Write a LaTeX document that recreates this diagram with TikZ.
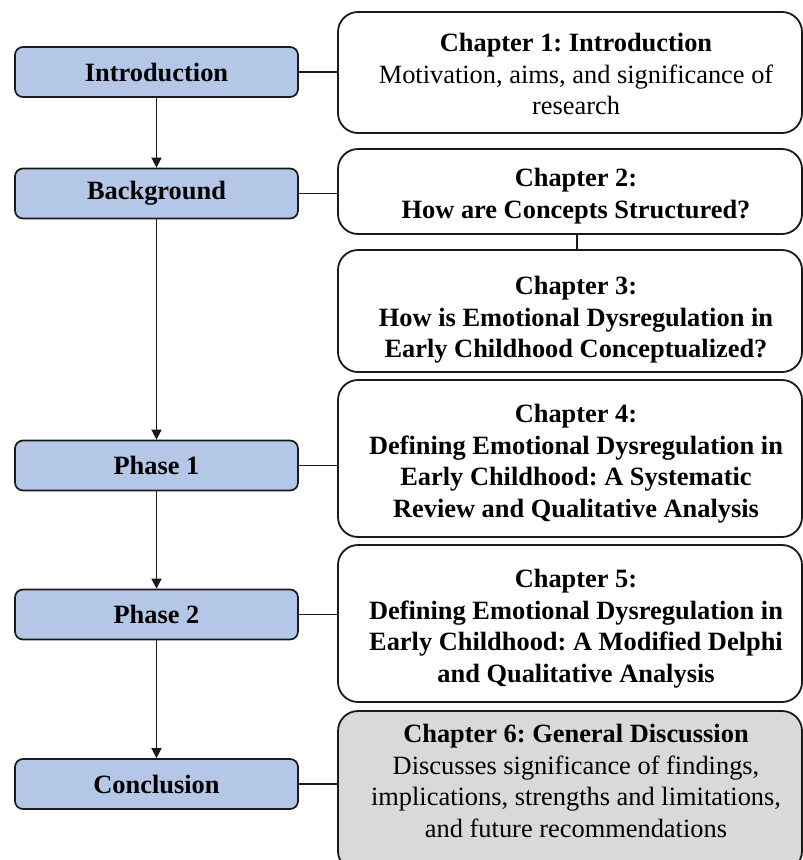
\documentclass[tikz,border=0pt]{standalone}
\usepackage{fontspec}
\setmainfont{Liberation Serif}
\usetikzlibrary{arrows.meta}
\definecolor{lblue}{RGB}{180,199,231}
\definecolor{lgray}{RGB}{217,217,217}
\definecolor{edge}{RGB}{25,25,25}
\frenchspacing
\begin{document}
\frenchspacing
\begin{tikzpicture}[x=1pt,y=-1pt,
  font={\fontsize{26.4}{31.5}\selectfont},
  lbox/.style={draw=edge, line width=1.7pt, fill=lblue, rounded corners=8pt,
    minimum width=283pt, minimum height=50pt, inner sep=0pt, font={\fontsize{26.4}{31.5}\selectfont\bfseries}},
  rbox/.style={draw=edge, line width=1.8pt, rounded corners=20pt, inner sep=0pt,
    minimum width=464pt},
  txt/.style={align=center, inner sep=0pt, anchor=north},
  conn/.style={draw=edge, line width=1.5pt},
  arr/.style={draw=edge, line width=1.5pt, -{Triangle[length=10pt,width=10pt]}}
]
\clip (0,0) rectangle (803,860);
\fill[white] (0,0) rectangle (803,860);

% left column
\node[lbox] (intro) at (156.5,72) {Introduction};
\node[lbox] (bg) at (156.5,193.5) {Background};
\node[lbox] (p1) at (156.5,465.5) {Phase 1};
\node[lbox] (p2) at (156.5,614.5) {Phase 2};
\node[lbox] (concl) at (156.5,784) {Conclusion};

% right column boxes
\node[rbox, fill=white, minimum height=121pt] (c1) at (570,72.5) {};
\node[rbox, fill=white, minimum height=85pt] (c2) at (570,191.5) {};
\node[rbox, fill=white, minimum height=122pt] (c3) at (570,311) {};
\node[rbox, fill=white, minimum height=157pt] (c4) at (570,458.5) {};
\node[rbox, fill=white, minimum height=157pt] (c5) at (570,623.5) {};
\node[rbox, fill=lgray, minimum height=160pt] (c6) at (570,791) {};

% right column texts
\node[txt] (c1t) at (576,33) {\textbf{Chapter 1: Introduction}\\Motivation, aims, and significance of\\research};
\node[txt] (c2t) at (576,168) {\textbf{Chapter 2:}\\\textbf{How are Concepts Structured?}};
\node[txt] (c3t) at (576,276) {\textbf{Chapter 3:}\\\textbf{How is Emotional Dysregulation in}\\\textbf{Early Childhood Conceptualized?}};
\node[txt] (c4t) at (576,404) {\textbf{Chapter 4:}\\\textbf{Defining Emotional Dysregulation in}\\\textbf{Early Childhood: A Systematic}\\\textbf{Review and Qualitative Analysis}};
\node[txt] (c5t) at (576,569) {\textbf{Chapter 5:}\\\textbf{Defining Emotional Dysregulation in}\\\textbf{Early Childhood: A Modified Delphi}\\\textbf{and Qualitative Analysis}};
\node[txt] (c6t) at (576,724) {\textbf{Chapter 6: General Discussion}\\Discusses significance of findings,\\implications, strengths and limitations,\\and future recommendations};

% arrows
\draw[arr] (intro) -- (bg);
\draw[arr] (bg) -- (p1);
\draw[arr] (p1) -- (p2);
\draw[arr] (p2) -- (concl);

% horizontal connectors
\draw[conn] (intro.east) -- (intro.east -| c1.west);
\draw[conn] (bg.east) -- (bg.east -| c2.west);
\draw[conn] (p1.east) -- (p1.east -| c4.west);
\draw[conn] (p2.east) -- (p2.east -| c5.west);
\draw[conn] (concl.east) -- (concl.east -| c6.west);
\draw[conn] ([xshift=7pt]c2.south) -- ([xshift=7pt]c2.south |- c3.north);
\end{tikzpicture}
\end{document}
